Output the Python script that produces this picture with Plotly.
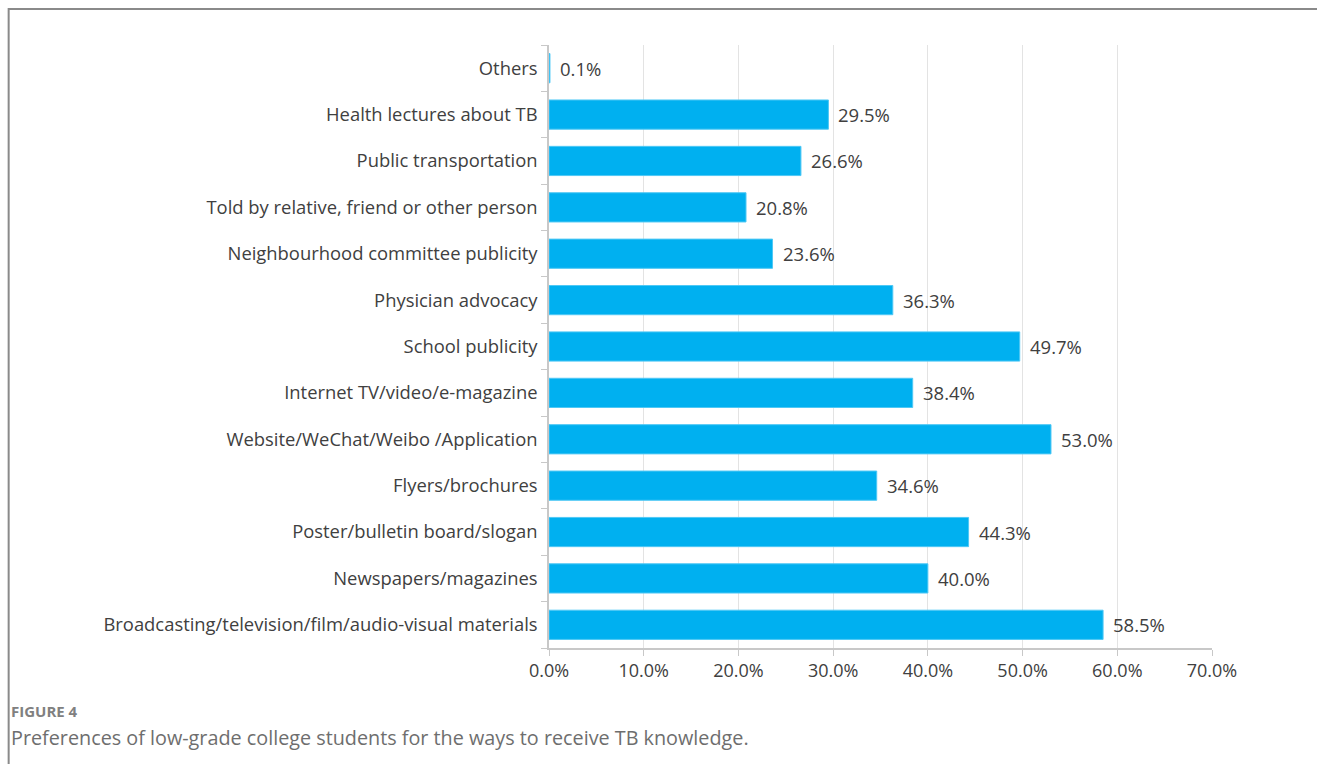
import plotly.graph_objects as go

# Ways to receive TB knowledge (bottom to top) and share of students choosing each
categories = [
    "Broadcasting/television/film/audio-visual materials",
    "Newspapers/magazines",
    "Poster/bulletin board/slogan",
    "Flyers/brochures",
    "Website/WeChat/Weibo /Application",
    "Internet TV/video/e-magazine",
    "School publicity",
    "Physician advocacy",
    "Neighbourhood committee publicity",
    "Told by relative, friend or other person",
    "Public transportation",
    "Health lectures about TB",
    "Others",
]
percent = [58.5, 40.0, 44.3, 34.6, 53.0, 38.4, 49.7, 36.3, 23.6, 20.8, 26.6, 29.5, 0.1]
tick_values = [0, 10, 20, 30, 40, 50, 60, 70]

FONT = "Open Sans"
TEXT = "#404040"

fig = go.Figure(
    go.Bar(
        x=percent,
        y=categories,
        orientation="h",
        marker=dict(color="#00B0F0", line=dict(color="#4fc8f5", width=1)),
        width=0.63,
        hoverinfo="x+y",
    )
)

# Value labels just right of each bar end
for v, c in zip(percent, categories):
    fig.add_annotation(
        x=v, y=c, xref="x", yref="y",
        text=f"{v:.1f}%",
        showarrow=False,
        xanchor="left", yanchor="middle",
        xshift=8,
        font=dict(family=FONT, size=18.5, color=TEXT),
    )

fig.update_layout(
    width=1317,
    height=764,
    margin=dict(l=549, r=105, t=45, b=116),
    paper_bgcolor="white",
    plot_bgcolor="white",
    showlegend=False,
    font=dict(family=FONT, size=18, color=TEXT),
)

fig.update_xaxes(
    range=[0, 70],
    tickvals=tick_values,
    ticktext=[f"{v:.1f}%" for v in tick_values],
    showgrid=True,
    gridcolor="#e3e3e3",
    gridwidth=1,
    showline=True,
    linecolor="#c8c8c8",
    linewidth=1.5,
    ticks="outside",
    ticklen=6,
    tickcolor="#c8c8c8",
    tickfont=dict(family=FONT, size=18, color=TEXT),
    zeroline=False,
    fixedrange=True,
)

fig.update_yaxes(
    type="category",
    categoryorder="array",
    categoryarray=categories,
    showgrid=False,
    showline=True,
    linecolor="#c8c8c8",
    linewidth=1.5,
    ticks="outside",
    tickson="boundaries",
    ticklen=6,
    tickcolor="#c8c8c8",
    ticklabelstandoff=6,
    tickfont=dict(family=FONT, size=18.4, color=TEXT),
    fixedrange=True,
)

# Frame around the figure (top and left edges visible)
fig.add_shape(
    type="rect",
    xref="paper", yref="paper",
    x0=-0.815, x1=1.3, y0=-0.3, y1=1.0595,
    line=dict(color="#8a8a8a", width=2),
    fillcolor="rgba(0,0,0,0)",
    layer="above",
)

# Caption
fig.add_annotation(
    xref="paper", yref="paper",
    x=-0.814, y=-0.105,
    xanchor="left", yanchor="middle",
    text="<b>FIGURE 4</b>",
    showarrow=False,
    font=dict(family=FONT, size=15, color="#808080"),
)
fig.add_annotation(
    xref="paper", yref="paper",
    x=-0.814, y=-0.149,
    xanchor="left", yanchor="middle",
    text="Preferences of low-grade college students for the ways to receive TB knowledge.",
    showarrow=False,
    font=dict(family=FONT, size=19.8, color="#6e6e6e"),
)

fig.write_html("out.html")
